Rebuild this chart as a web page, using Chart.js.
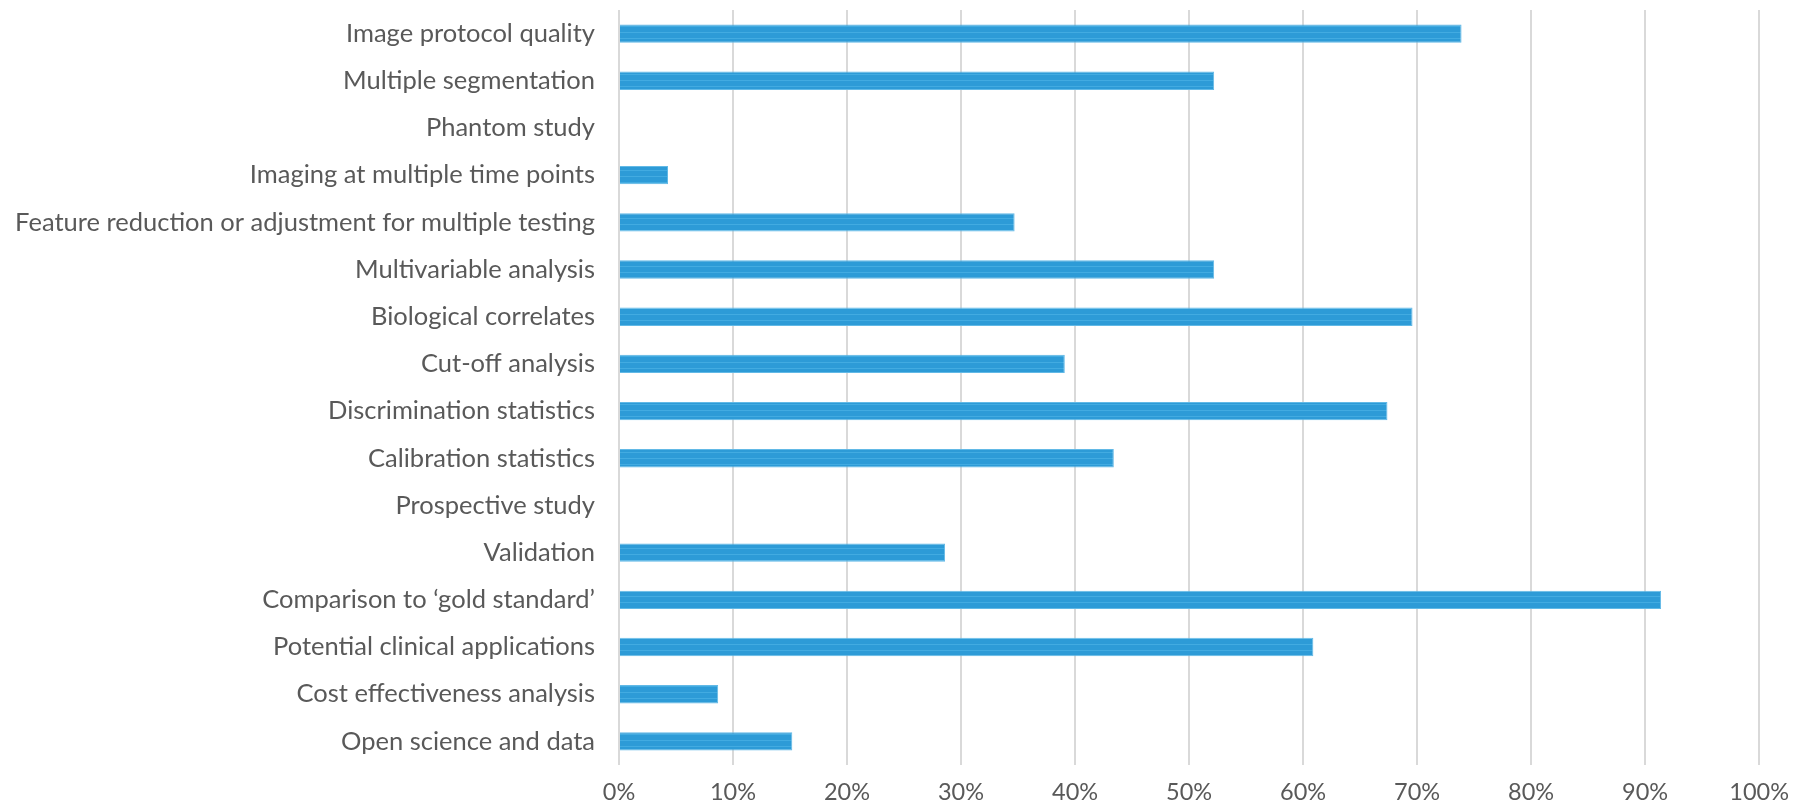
<!DOCTYPE html>
<html>
<head>
<meta charset="utf-8">
<script src="https://cdn.jsdelivr.net/npm/chart.js@4"></script>
<style>
    html, body { margin: 0; padding: 0; background: #ffffff; }
    #wrap { width: 1802px; height: 804px; position: relative; }
</style>
</head>
<body>
<div id="wrap"><canvas id="myChart"></canvas></div>
<script>
// Items of the quality score
const categories = [
    "Image protocol quality",
    "Multiple segmentation",
    "Phantom study",
    "Imaging at multiple time points",
    "Feature reduction or adjustment for multiple testing",
    "Multivariable analysis",
    "Biological correlates",
    "Cut-off analysis",
    "Discrimination statistics",
    "Calibration statistics",
    "Prospective study",
    "Validation",
    "Comparison to \u2018gold standard\u2019",
    "Potential clinical applications",
    "Cost effectiveness analysis",
    "Open science and data"
];
// Percentage of studies
const percentValues = [73.9, 52.2, 0, 4.3, 34.7, 52.2, 69.6, 39.1, 67.4, 43.4, 0, 28.6, 91.4, 60.9, 8.7, 15.2];
const xTicks = [0, 10, 20, 30, 40, 50, 60, 70, 80, 90, 100];

drawChart();
function drawChart() {
    // small striped fill like the original bars
    const tile = document.createElement("canvas");
    tile.width = 4;
    tile.height = 6;
    const tctx = tile.getContext("2d");
    tctx.fillStyle = "#2d9bd7";
    tctx.fillRect(0, 0, 4, 6);
    tctx.fillStyle = "#42abe1";
    tctx.fillRect(0, 2, 4, 1);
    const stripes = tctx.createPattern(tile, "repeat");

    const config = {
        type: "bar",
        data: {
            labels: categories,
            datasets: [{
                data: percentValues,
                backgroundColor: stripes,
                borderColor: "#62b9e6",
                borderWidth: 1,
                barPercentage: 0.39,
                categoryPercentage: 1
            }]
        },
        options: {
            indexAxis: "y",
            responsive: true,
            maintainAspectRatio: false,
            animation: false,
            layout: { padding: { top: 10, right: 39, left: 0, bottom: 0 } },
            plugins: {
                legend: { display: false },
                tooltip: { enabled: false }
            },
            scales: {
                x: {
                    min: 0,
                    max: 100,
                    afterBuildTicks: (axis) => {
                        axis.ticks = xTicks.map(v => ({ value: v }));
                    },
                    afterFit: (axis) => { axis.height = 39; },
                    grid: { color: "#d9d9d9", lineWidth: 2, drawTicks: false },
                    border: { display: false },
                    ticks: {
                        padding: 13,
                        color: "#595959",
                        font: { family: "Lato", size: 23.5 },
                        callback: (v) => v + "%"
                    }
                },
                y: {
                    afterFit: (axis) => {
                        axis.width = 619;
                        axis.paddingTop = 0;
                        axis.paddingBottom = 0;
                    },
                    grid: { display: false, drawTicks: false },
                    border: { display: false },
                    ticks: {
                        padding: 24,
                        color: "#595959",
                        font: { family: "Lato", size: 25.5 },
                        autoSkip: false
                    }
                }
            }
        }
    };
    new Chart(document.getElementById("myChart"), config);
}
</script>
</body>
</html>
